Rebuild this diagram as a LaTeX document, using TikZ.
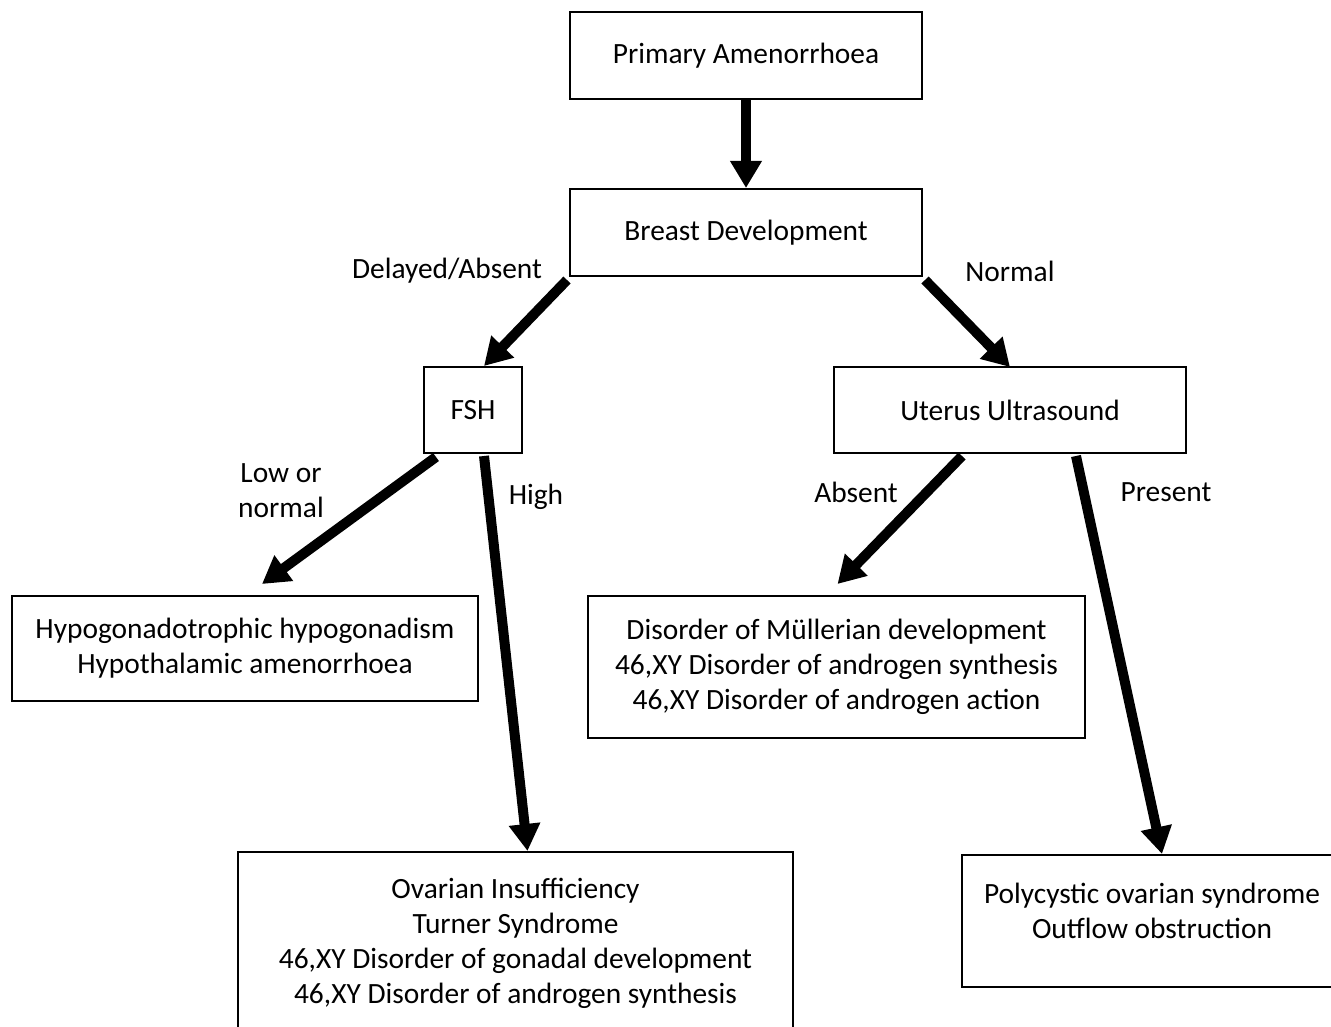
\documentclass[tikz,border=0pt]{standalone}
\usepackage{fontspec}
\setmainfont{Carlito}
\usetikzlibrary{arrows.meta}
\begin{document}
\begin{tikzpicture}[x=1pt,y=-1pt,
  box/.style={draw,line width=2pt,rectangle,inner sep=0pt,align=center,font=\fontsize{29.4}{35}\selectfont},
  lbl/.style={inner sep=0pt,align=center,font=\fontsize{29.4}{35}\selectfont},
  arr/.style={line width=10pt,-{Triangle[width=30pt,length=27pt]}}]
\useasboundingbox[fill=white] (0,0) rectangle (1331,1027);
\node[box,minimum width=352pt,minimum height=87pt] (prim) at (746,55.5) {Primary Amenorrhoea};
\node[box,minimum width=352pt,minimum height=87pt] (breast) at (746,232.5) {Breast Development};
\node[box,minimum width=98pt,minimum height=86pt] (fsh) at (473,410) {FSH};
\node[box,minimum width=352pt,minimum height=86pt] (ut) at (1010,410) {Uterus Ultrasound};
\node[box,minimum width=466pt,minimum height=105pt] (hypo) at (245,648.5) {Hypogonadotrophic hypogonadism\\Hypothalamic amenorrhoea};
\node[box,minimum width=497pt,minimum height=142pt] (mull) at (836.5,667) {Disorder of Müllerian development\\46,XY Disorder of androgen synthesis\\46,XY Disorder of androgen action};
\node[box,minimum width=555pt,minimum height=200pt] (ov) at (515.5,952) {};
\node[lbl] (ovt) at (515.5,943) {Ovarian Insufficiency\\Turner Syndrome\\46,XY Disorder of gonadal development\\46,XY Disorder of androgen synthesis};
\node[box,minimum width=390pt,minimum height=132pt] (pcos) at (1157,921) {};
\node[lbl] (pcost) at (1152,911) {Polycystic ovarian syndrome\\Outflow obstruction};
% labels
\node[lbl] (l1) at (447,271) {Delayed/Absent};
\node[lbl] (l2) at (1010,271) {Normal};
\node[lbl] (l3) at (281,491) {Low or\\normal};
\node[lbl] (l4) at (536,497) {High};
\node[lbl] (l5) at (856,492) {Absent};
\node[lbl] (l6) at (1166,492) {Present};
% arrows
\draw[arr] (prim.south) -- (breast.north);
\draw[arr] ([shift={(-2,3)}]breast.south west) -- ([xshift=11]fsh.north);
\draw[arr] ([shift={(2,3)}]breast.south east) -- ([yshift=-1]ut.north);
\draw[arr] ([shift={(13,3)}]fsh.south west) -- ([shift={(17,-11)}]hypo.north);
\draw[arr] ([shift={(11,2)}]fsh.south) -- ([xshift=12]ov.north);
\draw[arr] ([shift={(-48,2)}]ut.south) -- ([shift={(1,-11)}]mull.north);
\draw[arr] ([shift={(66,2)}]ut.south) -- ([xshift=5]pcos.north);
\end{tikzpicture}
\end{document}
